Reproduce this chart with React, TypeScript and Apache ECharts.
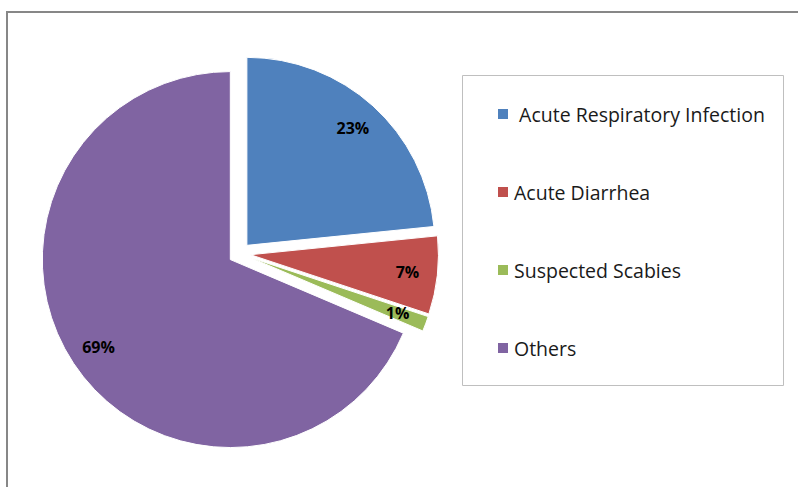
import React, { useEffect, useRef } from "react";
import * as echarts from "echarts";

const categories = ["Acute Respiratory Infection", "Acute Diarrhea", "Suspected Scabies", "Others"];
const values = [23.4, 6.7, 1.3, 68.6];
const colors = ["#4F81BD", "#C0504D", "#9BBB59", "#8064A2"];

export default function App() {
  const ref = useRef<HTMLDivElement>(null);
  useEffect(() => {
    if (!ref.current) return;
    const chart = echarts.init(ref.current, undefined, { renderer: "svg" });
    const data = categories.map((name, i) => ({
      name,
      value: values[i],
      selected: true,
      itemStyle: { color: colors[i] },
    }));
    const overlayData = categories.map((name, i) => ({
      name,
      value: values[i],
      selected: true,
    }));
    chart.setOption({
      animation: false,
      graphic: [
        {
          type: "rect",
          shape: { x: 7, y: 12, width: 820, height: 500 },
          style: { fill: "none", stroke: "#878787", lineWidth: 2 },
          silent: true,
        },
        {
          type: "rect",
          shape: { x: 462.5, y: 75.5, width: 321, height: 310 },
          style: { fill: "none", stroke: "#BFBFBF", lineWidth: 1 },
          silent: true,
        },
      ],
      legend: {
        orient: "vertical",
        left: 496,
        top: 102,
        padding: 0,
        itemWidth: 12,
        itemHeight: 12,
        itemGap: 54,
        icon: "rect",
        data: categories,
        selectedMode: false,
        formatter: (n: string) => (n === categories[0] ? " " + n : n),
        textStyle: { fontFamily: "Open Sans", fontSize: 19.5, color: "#1a1a1a", lineHeight: 24 },
      },
      series: [
        {
          type: "pie",
          center: [239.5, 253.5],
          radius: 188,
          startAngle: 90,
          clockwise: true,
          selectedMode: "multiple",
          selectedOffset: 11,
          emphasis: { disabled: true },
          itemStyle: { borderColor: "#fff", borderWidth: 1 },
          label: { show: false },
          labelLine: { show: false },
          data,
        },
        {
          type: "pie",
          center: [239.5, 253.5],
          radius: [122, 188],
          startAngle: 90,
          clockwise: true,
          silent: true,
          selectedMode: "multiple",
          selectedOffset: 11,
          emphasis: { disabled: true },
          itemStyle: { color: "rgba(0,0,0,0)" },
          select: { itemStyle: { color: "rgba(0,0,0,0)" } },
          label: {
            show: true,
            position: "inner",
            formatter: (p: any) => Math.round(p.value) + "%",
            fontFamily: "Open Sans",
            fontWeight: "bold",
            fontSize: 16,
            color: "#000",
          },
          labelLine: { show: false },
          data: overlayData,
        },
      ],
    });
    return () => chart.dispose();
  }, []);
  return (
    <div
      ref={ref}
      style={{ position: "fixed", left: 0, top: 0, width: 798, height: 487, background: "#fff" }}
    />
  );
}
